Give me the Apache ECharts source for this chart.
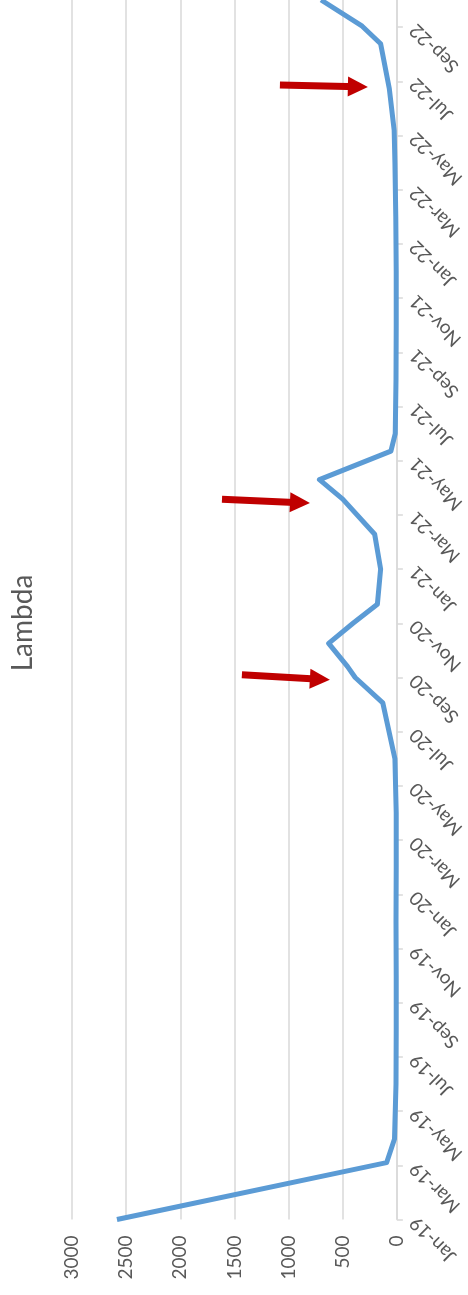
<!DOCTYPE html>
<html>
<head>
<meta charset="utf-8">
<style>
  html, body { margin: 0; padding: 0; background: #fff; }
  #chart { width: 468px; height: 1295px; }
</style>
<script src="https://cdn.jsdelivr.net/npm/echarts@6/dist/echarts.min.js"></script>
</head>
<body>
<div id="chart"></div>
<script>
  var dates = [
    '2019-01-01', '2019-03-04', '2019-03-31', '2019-06-01', '2019-08-01', '2019-10-01',
    '2019-12-01', '2020-02-01', '2020-04-01', '2020-06-01', '2020-08-03', '2020-09-01',
    '2020-09-13', '2020-10-09', '2020-11-01', '2020-11-22', '2021-01-01', '2021-02-09',
    '2021-03-19', '2021-04-10', '2021-05-12', '2021-06-01', '2021-08-01', '2021-10-01',
    '2021-12-01', '2022-02-01', '2022-04-01', '2022-05-07', '2022-06-23', '2022-08-13',
    '2022-09-02', '2022-10-01'
  ];
  var lambda = [
    2585, 95, 22, 8, 6, 6,
    8, 6, 6, 18, 130, 385,
    455, 630, 405, 180, 150, 205,
    500, 715, 55, 15, 8, 6,
    6, 10, 18, 25, 70, 150,
    320, 700
  ];
  var monthNames = ['Jan', 'Feb', 'Mar', 'Apr', 'May', 'Jun', 'Jul', 'Aug', 'Sep', 'Oct', 'Nov', 'Dec'];
  var startYear = 2019;
  var valueTicks = { min: 0, max: 3000, step: 500 };
  // red annotation arrows: [tail value, tail date, head value, head date]
  var arrows = [
    [1080, '2022-06-27', 360, '2022-06-25'],
    [1615, '2021-03-19', 895, '2021-03-15'],
    [1431, '2020-09-04', 711, '2020-08-30']
  ];

  // date string -> fractional month index from Jan-19
  function monthIndex(s) {
    var p = s.split('-');
    var y = +p[0], m = +p[1] - 1, d = +p[2];
    var dim = new Date(y, m + 1, 0).getDate();
    return (y - startYear) * 12 + m + (d - 1) / dim;
  }

  function monthLabel(i) {
    if (i % 2 !== 0 || i >= 45) return '';
    var y = startYear + Math.floor(i / 12);
    return monthNames[i % 12] + '-' + String(y).slice(2);
  }

  var seriesData = dates.map(function (d, i) {
    return [lambda[i], monthIndex(d)];
  });

  var arrowData = arrows.map(function (a) {
    return [
      { coord: [a[0], monthIndex(a[1])] },
      { coord: [a[2], monthIndex(a[3])] }
    ];
  });

  var grey = '#d9d9d9';
  var textGrey = '#595959';
  var font = 'Lato, "Open Sans", sans-serif';

  var chart = echarts.init(document.getElementById('chart'));
  chart.setOption({
    animation: false,
    backgroundColor: '#fff',
    grid: { left: 72, right: 71, top: 0, bottom: 75.5, containLabel: false },
    xAxis: {
      type: 'value',
      inverse: true,
      position: 'bottom',
      min: valueTicks.min,
      max: valueTicks.max,
      interval: valueTicks.step,
      axisLine: { show: false },
      axisTick: { show: false },
      splitLine: { show: true, lineStyle: { color: grey, width: 1.5 } },
      axisLabel: {
        rotate: 90,
        margin: 16,
        fontSize: 19,
        color: textGrey,
        fontFamily: font,
        formatter: function (v) { return String(v); }
      }
    },
    yAxis: {
      type: 'value',
      position: 'right',
      min: 0,
      max: 45,
      interval: 2,
      axisLine: { show: true, lineStyle: { color: grey, width: 1.5 } },
      axisTick: { show: true, inside: false, length: 6, lineStyle: { color: grey, width: 1.5 } },
      splitLine: { show: false },
      axisLabel: {
        rotate: 135,
        align: 'right',
        verticalAlign: 'middle',
        margin: 16,
        fontSize: 19,
        color: textGrey,
        fontFamily: font,
        showMaxLabel: false,
        formatter: function (v) { return monthLabel(v); }
      }
    },
    graphic: [{
      type: 'text',
      x: 23,
      y: 623,
      rotation: Math.PI / 2,
      style: {
        text: 'Lambda',
        fontSize: 28,
        fontFamily: font,
        fill: textGrey,
        align: 'center',
        verticalAlign: 'middle'
      }
    }],
    series: [{
      type: 'line',
      data: seriesData,
      showSymbol: false,
      symbol: 'none',
      lineStyle: { color: '#5b9bd5', width: 5, join: 'round' },
      markLine: {
        silent: true,
        animation: false,
        symbol: ['none', 'triangle'],
        symbolSize: [20, 20],
        label: { show: false },
        lineStyle: { color: '#c00000', width: 7, type: 'solid' },
        data: arrowData
      }
    }]
  });
</script>
</body>
</html>
